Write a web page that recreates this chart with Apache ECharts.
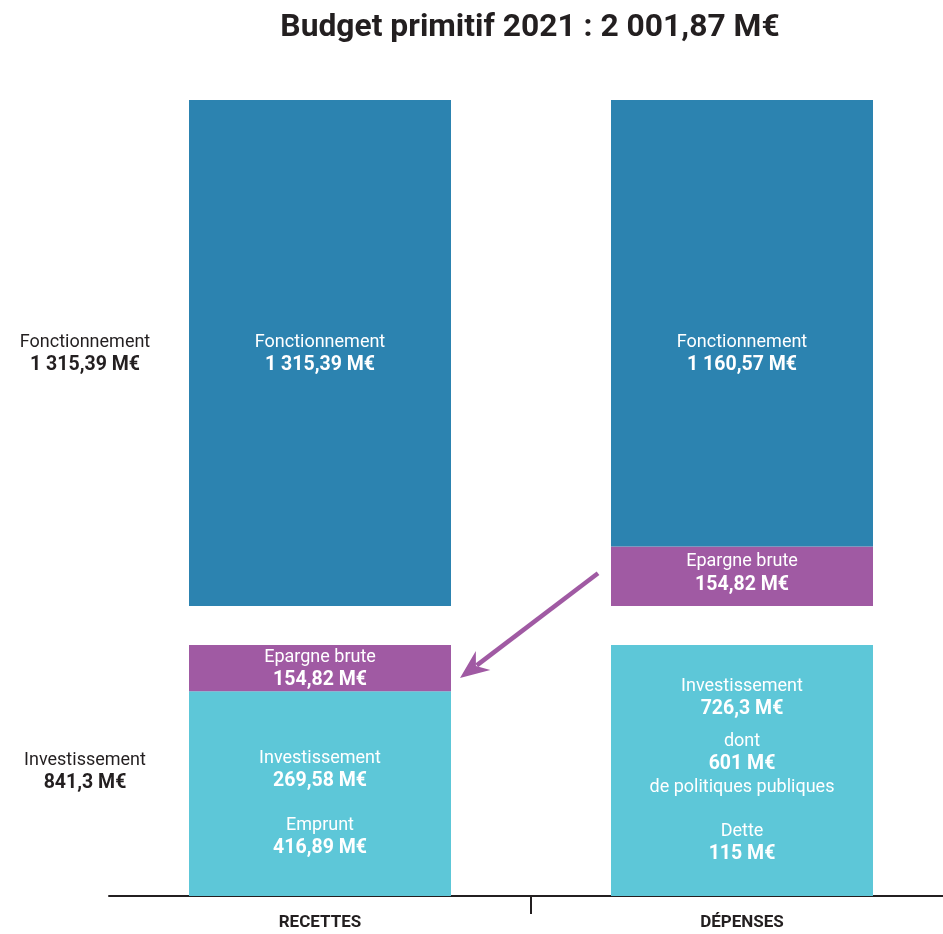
<!DOCTYPE html>
<html>
<head>
<meta charset="utf-8">
<title>Budget primitif 2021</title>
<script src="https://cdn.jsdelivr.net/npm/echarts@6/dist/echarts.min.js"></script>
<style>
  html, body { margin: 0; padding: 0; background: #fff; }
  #main { width: 943px; height: 934px; }
</style>
</head>
<body>
<div id="main"></div>
<script>
var categories = ['RECETTES', 'DÉPENSES']

// section fonctionnement (haut)
var epargneHaut = ['-', 154.82]
var fonctionnement = [1315.39, 1160.57]

// section investissement (bas)
var investissement = [269.58, 726.3]
var empruntDette = [416.89, 115]
var nomsBas = ['Emprunt', 'Dette']
var epargneBas = [154.82, '-']

var totalFonctionnement = 1315.39
var totalInvestissement = 841.3
var dontPolitiques = 601
var budgetTotal = 2001.87

var FONT = 'Roboto'
var DARK = '#231f20'
var BLEU = '#2c83b0'
var VIOLET = '#a05aa3'
var CYAN = '#5dc7d8'
var BAR_W = 262

function fmt(v) {
  var p = String(v).split('.')
  p[0] = p[0].replace(/\B(?=(\d{3})+(?!\d))/g, ' ')
  return p.join(',') + ' M€'
}

var richBlanc = {
  n: { fontFamily: FONT, fontSize: 18, fontWeight: 'normal', color: '#fff', lineHeight: 23 },
  b: { fontFamily: FONT, fontSize: 19.5, fontWeight: 'bold', color: '#fff', lineHeight: 23 },
  s: { fontSize: 9, lineHeight: 9 },
  s2: { fontSize: 9, lineHeight: 21 }
}
var richNoir = {
  n: { fontFamily: FONT, fontSize: 18, fontWeight: 'normal', color: DARK, lineHeight: 23 },
  b: { fontFamily: FONT, fontSize: 19.5, fontWeight: 'bold', color: DARK, lineHeight: 23 }
}

var chart = echarts.init(document.getElementById('main'), null, { renderer: 'canvas' })

var option = {
  animation: false,
  backgroundColor: '#fff',
  title: [
    {
      text: 'Budget primitif 2021 : ' + fmt(budgetTotal),
      left: 530,
      top: 9,
      textAlign: 'center',
      padding: 0,
      textStyle: { fontFamily: FONT, fontSize: 31.8, fontWeight: 'bold', color: DARK, lineHeight: 38 }
    },
    {
      text: '{n|Fonctionnement}\n{b|' + fmt(totalFonctionnement) + '}',
      left: 85,
      top: 331,
      textAlign: 'center',
      padding: 0,
      textStyle: { fontWeight: 'normal', rich: richNoir }
    },
    {
      text: '{n|Investissement}\n{b|' + fmt(totalInvestissement) + '}',
      left: 85,
      top: 749,
      textAlign: 'center',
      padding: 0,
      textStyle: { fontWeight: 'normal', rich: richNoir }
    }
  ],
  grid: [
    { left: 109, right: -10, top: 100, height: 506, outerBoundsMode: 'none', containLabel: false },
    { left: 109, right: -10, top: 645, height: 251, outerBoundsMode: 'none', containLabel: false }
  ],
  xAxis: [
    { type: 'category', gridIndex: 0, data: categories, show: false },
    {
      type: 'category',
      gridIndex: 1,
      position: 'bottom',
      data: categories,
      axisLine: { lineStyle: { color: DARK, width: 2 } },
      axisTick: { show: false },
      axisLabel: { fontFamily: FONT, fontSize: 17, fontWeight: 'bold', color: DARK, margin: 18 }
    },
    {
      // axe auxiliaire : seulement le repère entre recettes et dépenses
      type: 'category',
      gridIndex: 1,
      position: 'bottom',
      boundaryGap: false,
      data: ['', '', ''],
      axisLine: { show: false },
      axisLabel: { show: false },
      axisTick: {
        show: true,
        length: 18,
        interval: function (index) { return index >= 1 },
        lineStyle: { color: DARK, width: 2 }
      }
    }
  ],
  yAxis: [
    { type: 'value', gridIndex: 0, min: 0, max: totalFonctionnement, show: false, splitLine: { show: false } },
    { type: 'value', gridIndex: 1, min: 0, max: totalInvestissement, show: false, splitLine: { show: false } }
  ],
  series: [
    {
      name: 'Epargne brute',
      type: 'bar',
      xAxisIndex: 0,
      yAxisIndex: 0,
      stack: 'haut',
      barWidth: BAR_W,
      data: epargneHaut,
      itemStyle: { color: VIOLET },
      label: {
        show: true,
        position: 'inside',
        offset: [0, -3],
        formatter: function (p) { return '{n|Epargne brute}\n{b|' + fmt(p.value) + '}' },
        rich: richBlanc
      }
    },
    {
      name: 'Fonctionnement',
      type: 'bar',
      xAxisIndex: 0,
      yAxisIndex: 0,
      stack: 'haut',
      barWidth: BAR_W,
      data: fonctionnement,
      itemStyle: { color: BLEU },
      label: {
        show: true,
        position: 'insideTop',
        distance: 231,
        formatter: function (p) { return '{n|Fonctionnement}\n{b|' + fmt(p.value) + '}' },
        rich: richBlanc
      }
    },
    {
      // bloc investissement : investissement + emprunt (recettes) / investissement + dette (dépenses)
      name: 'Investissement',
      type: 'bar',
      xAxisIndex: 1,
      yAxisIndex: 1,
      stack: 'bas',
      barWidth: BAR_W,
      data: investissement.map(function (v, i) {
        return { value: +(v + empruntDette[i]).toFixed(2), label: { offset: [0, [10, 0][i]] } }
      }),
      itemStyle: { color: CYAN },
      label: {
        show: true,
        position: 'inside',
        formatter: function (p) {
          var i = p.dataIndex
          var t = '{n|Investissement}\n{b|' + fmt(investissement[i]) + '}'
          if (i === 1) {
            t += '\n{s| }\n{n|dont}\n{b|' + fmt(dontPolitiques) + '}\n{n|de politiques publiques}'
          }
          t += '\n{s2| }\n{n|' + nomsBas[i] + '}\n{b|' + fmt(empruntDette[i]) + '}'
          return t
        },
        rich: richBlanc
      }
    },
    {
      name: 'Epargne brute (investissement)',
      type: 'bar',
      xAxisIndex: 1,
      yAxisIndex: 1,
      stack: 'bas',
      barWidth: BAR_W,
      data: epargneBas,
      itemStyle: { color: VIOLET },
      label: {
        show: true,
        position: 'inside',
        offset: [0, 1],
        formatter: function (p) { return '{n|Epargne brute}\n{b|' + fmt(p.value) + '}' },
        rich: richBlanc
      }
    }
  ]
}

chart.setOption(option)

// flèche : l'épargne brute des dépenses alimente les recettes d'investissement
var p0 = chart.convertToPixel({ gridIndex: 0 }, [categories[1], epargneHaut[1] / 2])
var p1 = chart.convertToPixel({ gridIndex: 1 }, [categories[0], investissement[0] + empruntDette[0] + epargneBas[0] / 2])
var x0 = p0[0] - BAR_W / 2 - 13, y0 = p0[1] - 3
var x1 = p1[0] + BAR_W / 2 + 9, y1 = p1[1] + 10
var dx = x1 - x0, dy = y1 - y0
var len = Math.sqrt(dx * dx + dy * dy)
var ux = dx / len, uy = dy / len
var HEAD = 27, HALF = 12
var bx = x1 - ux * HEAD, by = y1 - uy * HEAD

chart.setOption({
  graphic: [
    {
      type: 'line',
      shape: { x1: x0, y1: y0, x2: bx + ux * 6, y2: by + uy * 6 },
      style: { stroke: VIOLET, lineWidth: 4.5 }
    },
    {
      type: 'polygon',
      shape: {
        points: [
          [x1, y1],
          [bx - uy * HALF - ux * 2, by + ux * HALF - uy * 2],
          [bx + ux * 7, by + uy * 7],
          [bx + uy * HALF - ux * 2, by - ux * HALF - uy * 2]
        ]
      },
      style: { fill: VIOLET }
    }
  ]
})
</script>
</body>
</html>
